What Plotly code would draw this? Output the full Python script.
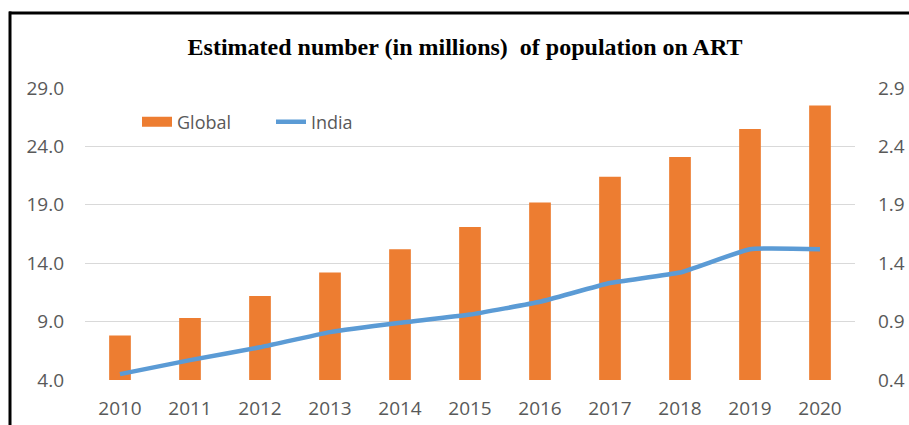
import plotly.graph_objects as go

years = ["2010", "2011", "2012", "2013", "2014", "2015", "2016", "2017", "2018", "2019", "2020"]
global_art = [7.8, 9.3, 11.2, 13.2, 15.2, 17.1, 19.2, 21.4, 23.1, 25.5, 27.5]
india_art = [0.45, 0.57, 0.68, 0.81, 0.89, 0.96, 1.07, 1.23, 1.32, 1.52, 1.52]

left_ticks = [4.0, 9.0, 14.0, 19.0, 24.0, 29.0]
right_ticks = [0.4, 0.9, 1.4, 1.9, 2.4, 2.9]

ORANGE = "#ED7D31"
BLUE = "#5B9BD5"

W, H = 909, 425
L, R, T, B = 85, 54, 88, 45
pw, ph = W - L - R, H - T - B

def px_x(px):
    return (px - L) / pw

def px_y(py):
    return (H - B - py) / ph

fig = go.Figure()
fig.add_trace(go.Bar(
    x=years, y=global_art, name="Global",
    marker=dict(color=ORANGE, line=dict(width=0)),
    yaxis="y", showlegend=False,
))
# legend key for the bars: a wide flat swatch
fig.add_trace(go.Scatter(
    x=[None], y=[None], name="Global", mode="lines",
    line=dict(color=ORANGE, width=11), yaxis="y",
))
fig.add_trace(go.Scatter(
    x=years, y=india_art, name="India", mode="lines",
    line=dict(color=BLUE, width=4.5, shape="spline", smoothing=0.35),
    yaxis="y2",
))

tick_font = dict(family="Open Sans, Liberation Sans, sans-serif", size=19, color="#595959")

fig.update_layout(
    width=W, height=H,
    margin=dict(l=L, r=R, t=T, b=B, autoexpand=False),
    paper_bgcolor="white", plot_bgcolor="white",
    bargap=0.69,
    showlegend=True,
    legend=dict(orientation="h", x=px_x(137), y=px_y(122), xanchor="left", yanchor="middle",
                font=dict(family="Open Sans, Liberation Sans, sans-serif", size=18, color="#595959"),
                bgcolor="rgba(0,0,0,0)", traceorder="normal", entrywidth=89),
    title=dict(text="<b>Estimated number (in millions)  of population on ART</b>",
               x=465 / W, xanchor="center", y=1 - 47 / H, yanchor="middle",
               font=dict(family="Liberation Serif, Times New Roman, serif", size=24, color="#000000")),
    xaxis=dict(tickfont=tick_font, showgrid=False, showline=False, ticks="",
               ticklabelstandoff=15, automargin=False),
    yaxis=dict(range=[4, 29], tickvals=left_ticks, ticktext=[f"{v:.1f}" for v in left_ticks],
               tickfont=tick_font, showgrid=True, gridcolor="#D9D9D9", gridwidth=1,
               zeroline=False, showline=False, ticks="", ticklabelstandoff=20, automargin=False),
    yaxis2=dict(range=[0.4, 2.9], tickvals=right_ticks, ticktext=[f"{v:.1f}" for v in right_ticks],
                tickfont=tick_font, overlaying="y", side="right", showgrid=False,
                zeroline=False, showline=False, ticks="", ticklabelstandoff=22, automargin=False),
)

# Frame around the figure: top edge and left edge
fig.add_shape(type="line", xref="paper", yref="paper",
              x0=px_x(9), x1=px_x(915), y0=px_y(13), y1=px_y(13),
              line=dict(color="black", width=3))
fig.add_shape(type="line", xref="paper", yref="paper",
              x0=px_x(10), x1=px_x(10), y0=px_y(11.5), y1=px_y(430),
              line=dict(color="black", width=3))

fig.write_html("out.html")
